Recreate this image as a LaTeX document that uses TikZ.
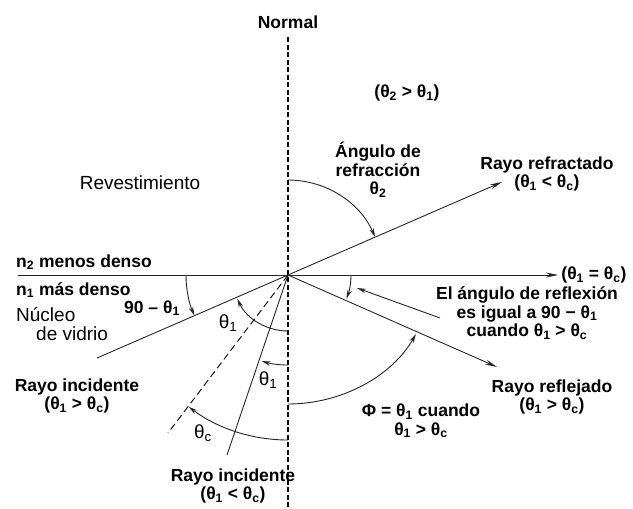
\documentclass[tikz,border=0pt]{standalone}
\usepackage{fontspec}
\setmainfont{Liberation Sans}
\usetikzlibrary{arrows.meta}
\newcommand{\tht}[1]{θ\textsubscript{#1}}
\begin{document}
\begin{tikzpicture}[x=1pt,y=-1pt,
  lbl/.style={font=\fontsize{17.5}{18.5}\selectfont\bfseries, inner sep=0pt, align=center},
  lblr/.style={font=\fontsize{19}{19}\selectfont, inner sep=0pt, align=center},
  ray/.style={line width=0.9pt, draw=black!85},
  raytip/.style={-{Stealth[length=12pt,width=5pt]}},
  arctip/.style={-{Stealth[length=9pt,width=4.5pt]}},
  normline/.style={line width=1.6pt, dash pattern=on 5pt off 2.5pt},
  critline/.style={line width=0.9pt, dash pattern=on 7pt off 4pt}]
\useasboundingbox (0,0) rectangle (633,509);
\fill[white] (0,0) rectangle (633,509);

% key points
\coordinate (O) at (288,275);
\coordinate (ntop) at (288,37);
\coordinate (nbot) at (288,509);
\coordinate (hl) at (18,275);
\coordinate (hr) at (558,275);
\coordinate (refr) at (502,182);
\coordinate (inc1) at (97,358);
\coordinate (refl) at (497,367);
\coordinate (crit) at (168,433);
\coordinate (inc2) at (227,455);
\coordinate (lead) at (440,318);
\coordinate (leadend) at (357,288);

% lines
\draw[normline] (ntop) -- (nbot);
\draw[ray,raytip] (hl) -- (hr);
\draw[ray,raytip] (O) -- (refr);
\draw[ray] (O) -- (inc1);
\draw[ray,raytip] (O) -- (refl);
\draw[critline] (O) -- (crit);
\draw[ray] (O) -- (inc2);

% angle arcs
\draw[ray,arctip] ([shift={(-90:95)}]O) arc[start angle=-90, end angle=-23.5, radius=95];
\draw[ray,arctip] ([shift={(180:102)}]O) arc[start angle=180, end angle=156.5, radius=102];
\draw[ray,arctip] ([shift={(90:56)}]O) arc[start angle=90, end angle=155, radius=56];
\draw[ray,arctip] ([shift={(90:90)}]O) arc[start angle=90, end angle=107, radius=90];
\draw[ray,arctip] ([shift={(90:165)}]O) arc[start angle=90, end angle=127, radius=165];
\draw[ray,arctip] ([shift={(0:63)}]O) arc[start angle=0, end angle=22, radius=63];
\draw[ray,arctip] (288,404) .. controls (342,404) and (392,376) .. (416,334);
\draw[ray,arctip] (lead) -- (leadend);

% labels
\node[lbl] (normal) at (288,22) {Normal};
\node[lbl] (t21) at (407,93) {(\tht{2} > \tht{1})};
\node[lbl] (angref) at (378,170) {Ángulo de\\refracción\\\tht{2}};
\node[lbl] (rrefr) at (547,174) {Rayo refractado\\(\tht{1} < \tht{c})};
\node[lblr] (revest) at (140,183) {Revestimiento};
\node[lbl, anchor=west] (n2) at (16,262) {n\textsubscript{2} menos denso};
\node[lbl, anchor=west] (n1) at (16,290) {n\textsubscript{1} más denso};
\node[lblr, anchor=west] (nuc) at (16,315) {Núcleo};
\node[lblr, anchor=west] (vid) at (36,334) {de vidrio};
\node[lbl] (ninety) at (152,308) {90 – \tht{1}};
\node[lbl] (rinc1) at (77,396) {Rayo incidente\\(\tht{1} > \tht{c})};
\node[lblr] (a1) at (228,323) {\tht{1}};
\node[lblr] (a2) at (268,380) {\tht{1}};
\node[lblr] (ac) at (203,433) {\tht{c}};
\node[lbl] (rinc2) at (233,486) {Rayo incidente\\(\tht{1} < \tht{c})};
\node[lbl] (teq) at (594,275) {(\tht{1} = \tht{c})};
\node[lbl] (elang) at (527,313) {El ángulo de reflexión\\es igual a 90 − \tht{1}\\cuando \tht{1} > \tht{c}};
\node[lbl] (rrefl) at (552,397) {Rayo reflejado\\(\tht{1} > \tht{c})};
\node[lbl] (phi) at (421,421) {Φ = \tht{1} cuando\\\tht{1} > \tht{c}};
\end{tikzpicture}
\end{document}
